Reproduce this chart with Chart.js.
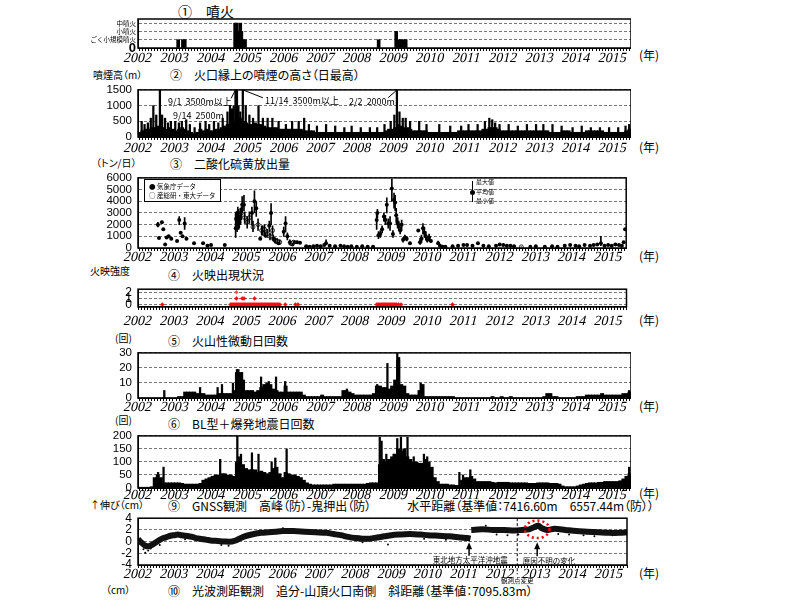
<!DOCTYPE html>
<html>
<head>
<meta charset="utf-8">
<script src="https://cdn.jsdelivr.net/npm/chart.js@4/dist/chart.umd.min.js"></script>
<style>
html, body { margin: 0; padding: 0; width: 800px; height: 600px; overflow: hidden; background: #fff; }
body { position: relative; font-family: "Noto Sans CJK JP", sans-serif; color: #000; }
.box { position: absolute; }
.t { position: absolute; white-space: nowrap; line-height: 1; font-size: 12px; font-feature-settings: "palt"; }
.u { font-size: 10px; }
.yr { font-size: 12px; font-feature-settings: normal; }
.lg { position: absolute; left: 144px; top: 179px; width: 75px; height: 21px; border: 1px solid #000; background: #fff; font-size: 6.5px; line-height: 1; }
.lg div { position: absolute; left: 4px; white-space: nowrap; }
</style>
</head>
<body>

<div class="t" style="left:178px;top:4px;font-size:14px">①　噴火</div>

<div class="t u" style="left:93px;top:70px">噴煙高（m）</div>
<div class="t" style="left:170px;top:69px">②　火口縁上の噴煙の高さ（日最高）</div>

<div class="t u" style="left:96px;top:158px">（トン/日）</div>
<div class="t" style="left:170px;top:158px">③　二酸化硫黄放出量</div>

<div class="t u" style="left:90px;top:266px">火映強度</div>
<div class="t" style="left:168px;top:269px">④　火映出現状況</div>

<div class="t u" style="left:115px;top:333px">(回)</div>
<div class="t" style="left:168px;top:335px">⑤　火山性微動日回数</div>

<div class="t u" style="left:115px;top:415px">(回)</div>
<div class="t" style="left:168px;top:418px">⑥　BL型＋爆発地震日回数</div>

<div class="t u" style="left:90px;top:500px">↑伸び（cm）</div>
<div class="t" style="left:168px;top:500px">⑨　GNSS観測　高峰（防）-鬼押出（防）　　　水平距離（基準値：7416.60m　6557.44m（防））</div>

<div class="t u" style="left:106px;top:585px">（cm）</div>
<div class="t" style="left:168px;top:585px">⑩　光波測距観測　追分-山頂火口南側　斜距離（基準値：7095.83m）</div>

<div class="t yr" style="left:639px;top:49px">(年)</div>
<div class="t yr" style="left:639px;top:141px">(年)</div>
<div class="t yr" style="left:639px;top:250px">(年)</div>
<div class="t yr" style="left:639px;top:314px">(年)</div>
<div class="t yr" style="left:639px;top:400px">(年)</div>
<div class="t yr" style="left:639px;top:487px">(年)</div>
<div class="t yr" style="left:639px;top:567px">(年)</div>

<script>
// ---- data ----
// ① 噴火 (1: ごく小規模噴火, 2: 小噴火, 3: 中噴火)
var eruptYear  = [2003.10, 2003.23, 2003.28, 2004.66, 2004.70, 2004.73, 2004.76, 2004.80, 2004.83, 2004.87, 2004.93, 2008.59, 2009.07, 2009.13, 2009.20, 2009.27, 2009.33];
var eruptLevel = [1, 1, 1, 3, 3, 2, 2, 3, 2, 1, 1, 1, 2, 1, 1, 1, 1];
var eruptLabels = ['0', 'ごく小規模噴火', '小噴火', '中噴火'];

// ② 噴煙高 (m) 月ごとの日最高の目安 2002/01 - 2015/06
var plumeMonthly = [
  150,200,250,250,300,300,350,350,300,250,300,250,
  200,250,300,250,200,150,100,150,250,200,250,200,
  200,250,250,300,350,400,450,500,600,600,500,450,
  400,400,450,400,400,350,300,300,300,300,250,250,
  250,250,250,250,250,250,200,200,200,200,150,150,
  150,150,150,150,150,150,150,150,150,150,150,150,
  150,150,150,150,150,150,150,150,150,200,250,250,
  300,400,350,300,300,250,200,200,200,200,200,150,
  150,150,150,150,150,150,150,150,150,200,200,200,
  200,200,200,200,200,250,250,300,300,300,250,200,
  200,200,200,200,200,200,200,200,200,200,200,200,
  200,200,200,150,150,150,150,200,200,200,150,150,
  150,150,150,200,200,200,200,200,200,150,150,150,
  150,150,150,150,200,250
];
var plumeSpikeYear = [
  2002.10, 2002.18, 2002.27, 2002.35, 2002.42, 2002.50, 2002.60, 2002.66, 2002.74, 2002.82,
  2002.90, 2003.02, 2003.12, 2003.20, 2003.32, 2003.42, 2003.55, 2003.70, 2003.85, 2003.95,
  2004.08, 2004.20, 2004.32, 2004.45, 2004.52, 2004.57, 2004.62, 2004.67, 2004.71, 2004.75,
  2004.80, 2004.87, 2004.95, 2005.05, 2005.15, 2005.30, 2005.42, 2005.55, 2005.68, 2005.85,
  2006.05, 2006.22, 2006.40, 2006.55, 2006.68, 2006.90, 2007.15, 2007.40, 2007.65, 2007.85,
  2008.10, 2008.35, 2008.55, 2008.75, 2008.92, 2009.02, 2009.09, 2009.16, 2009.25, 2009.33,
  2009.45, 2009.70, 2009.90, 2010.25, 2010.55, 2010.85, 2011.05, 2011.30, 2011.50, 2011.62,
  2011.70, 2011.78, 2011.90, 2012.15, 2012.40, 2012.65, 2012.90, 2013.10, 2013.35, 2013.60,
  2013.90, 2014.15, 2014.40, 2014.65, 2014.90, 2015.15, 2015.35, 2015.45
];
var plumeSpikeVal = [
  500, 400, 450, 600, 1000, 700, 1500, 700, 600, 450,
  500, 500, 450, 500, 550, 400, 300, 450, 500, 400,
  500, 450, 600, 800, 1000, 900, 1000, 3500, 2500, 1000,
  800, 3500, 1000, 700, 600, 1000, 600, 600, 600, 500,
  400, 500, 500, 600, 400, 350, 400, 350, 300, 350,
  300, 300, 300, 400, 500, 700, 2000, 800, 600, 600,
  500, 500, 400, 400, 350, 350, 400, 400, 500, 600,
  550, 450, 400, 400, 350, 400, 400, 400, 400, 350,
  300, 350, 300, 300, 300, 300, 350, 400
];

// ③ 二酸化硫黄放出量 (トン/日) 気象庁データ
var jmaYear = [
  2002.55, 2002.58, 2002.66, 2002.70, 2002.75, 2002.79, 2002.85, 2002.92, 2003.08, 2003.14,
  2003.18, 2003.23, 2003.29, 2003.34, 2003.55, 2003.80, 2003.92, 2004.02, 2004.40, 2004.70,
  2004.74, 2004.78, 2004.83, 2004.88, 2004.93, 2005.15, 2005.22, 2005.27, 2005.38, 2005.45,
  2005.52, 2005.63, 2005.68, 2005.74, 2005.80, 2005.88, 2006.03, 2006.08, 2006.13, 2006.20,
  2006.27, 2006.33, 2006.40, 2006.48, 2006.65, 2006.75, 2006.85, 2006.95, 2007.05, 2007.15,
  2007.20, 2007.30, 2007.45, 2007.60, 2007.70, 2007.80, 2007.90, 2008.05, 2008.20, 2008.35,
  2008.50, 2008.60, 2008.62, 2008.65, 2008.70, 2008.75, 2008.80, 2008.84, 2008.88, 2008.92,
  2008.97, 2009.02, 2009.05, 2009.08, 2009.11, 2009.14, 2009.18, 2009.21, 2009.25, 2009.29,
  2009.33, 2009.38, 2009.43, 2009.52, 2009.75, 2009.80, 2009.84, 2009.88, 2009.92, 2009.96,
  2010.00, 2010.05, 2010.10, 2010.30, 2010.35, 2010.42, 2010.50, 2010.70, 2010.85, 2011.00,
  2011.10, 2011.25, 2011.40, 2011.55, 2011.70, 2011.90, 2012.00, 2012.10, 2012.20, 2012.30,
  2012.40, 2012.85, 2013.00, 2013.25, 2013.45, 2013.60, 2013.80, 2013.95, 2014.10, 2014.20,
  2014.35, 2014.50, 2014.60, 2014.70, 2014.80, 2014.90, 2015.00, 2015.10, 2015.20, 2015.30,
  2015.38, 2015.43, 2015.47
];
var jmaMean = [
  2000, 850, 2200, 1600, 300, 900, 1000, 800, 600, 2400,
  1300, 1000, 2100, 800, 400, 400, 200, 250, 250, 1700,
  2000, 2500, 2700, 3700, 3700, 3000, 4000, 3400, 800, 1500,
  1100, 1900, 3000, 800, 600, 400, 1400, 2100, 1000, 500,
  300, 500, 500, 450, 150, 100, 150, 200, 150, 250,
  400, 200, 150, 200, 150, 100, 150, 100, 150, 100,
  100, 2400, 3000, 1100, 1200, 1600, 2700, 2400, 3700, 2100,
  2100, 5100, 1200, 4100, 3900, 2800, 2100, 1900, 1500, 2000,
  700, 900, 800, 400, 1500, 500, 800, 1700, 1300, 1000,
  700, 900, 600, 400, 200, 100, 100, 150, 200, 250,
  250, 200, 400, 200, 150, 200, 300, 250, 200, 200,
  150, 100, 150, 100, 150, 100, 200, 250, 200, 150,
  250, 200, 250, 300, 400, 200, 250, 200, 300, 250,
  200, 500, 1600
];
var jmaMin = [
  1800, 850, 2100, 1600, 300, 900, 1000, 800, 600, 2000,
  1300, 1000, 1600, 800, 400, 400, 200, 250, 250, 900,
  1400, 1600, 2000, 3000, 3200, 2000, 3000, 2700, 800, 1100,
  900, 1400, 2000, 600, 400, 300, 1000, 1400, 700, 300,
  200, 400, 400, 450, 150, 100, 150, 200, 150, 250,
  300, 200, 150, 200, 150, 100, 150, 100, 150, 100,
  100, 1600, 2600, 800, 900, 1300, 2300, 2000, 3000, 1700,
  1500, 4000, 900, 3400, 3200, 2200, 1700, 1500, 1200, 1500,
  500, 700, 600, 300, 1400, 300, 500, 1200, 900, 700,
  500, 600, 500, 300, 200, 100, 100, 150, 200, 250,
  250, 200, 400, 200, 150, 200, 300, 250, 200, 200,
  150, 100, 150, 100, 150, 100, 200, 250, 200, 150,
  250, 200, 250, 300, 200, 200, 250, 200, 300, 250,
  200, 500, 1600
];
var jmaMax = [
  2200, 850, 2300, 1600, 300, 900, 1000, 800, 600, 2700,
  1300, 1000, 2600, 800, 400, 400, 200, 250, 250, 3000,
  2600, 3300, 3400, 4400, 4500, 3500, 4900, 4000, 800, 1900,
  1300, 2300, 3800, 1100, 800, 500, 1800, 2700, 1300, 700,
  400, 600, 600, 450, 150, 100, 150, 200, 150, 250,
  700, 200, 150, 200, 150, 100, 150, 100, 150, 100,
  100, 3000, 3300, 1400, 1500, 1900, 3000, 2800, 4300, 2500,
  2700, 5900, 1500, 4700, 4500, 3400, 2600, 2300, 1800, 2400,
  900, 1100, 1000, 500, 1600, 800, 1100, 2100, 1800, 1400,
  900, 1200, 700, 600, 200, 100, 100, 150, 200, 250,
  250, 200, 400, 200, 150, 200, 300, 250, 200, 200,
  150, 100, 150, 100, 150, 100, 200, 250, 200, 150,
  250, 200, 250, 300, 1000, 200, 250, 200, 300, 250,
  200, 500, 1600
];
// 産総研・東大データ
var aistYear = [2004.72, 2004.76, 2004.80, 2004.86, 2004.95, 2005.02, 2005.08, 2005.18, 2005.32, 2005.42, 2005.50, 2005.57, 2005.65, 2005.72, 2005.78, 2005.85, 2005.92, 2006.22, 2006.30, 2012.60];
var aistMean = [2500, 3000, 2200, 3000, 2600, 2200, 2600, 1800, 2000, 1500, 1600, 1200, 1000, 1500, 700, 600, 500, 400, 500, 100];
var aistMin  = [1900, 2400, 1700, 2400, 2100, 1700, 2100, 1400, 1500, 1100, 1200, 900, 700, 1100, 500, 400, 300, 300, 400, 100];
var aistMax  = [3100, 3500, 2800, 3500, 3100, 2700, 3100, 2300, 2500, 1900, 2000, 1600, 1300, 1900, 900, 800, 700, 500, 600, 100];

// ④ 火映 (強度 0, 1, 2)
var glow0Year = [
  2002.67, 2004.56, 2004.59, 2004.62, 2004.65, 2004.68, 2004.71, 2004.74, 2004.77, 2004.80,
  2004.83, 2004.86, 2004.89, 2004.92, 2004.95, 2004.98, 2005.01, 2005.04, 2005.07, 2005.10,
  2005.13, 2005.16, 2005.19, 2005.22, 2005.25, 2005.28, 2005.31, 2005.34, 2005.37, 2005.40,
  2005.43, 2005.46, 2005.49, 2005.52, 2005.55, 2005.58, 2005.61, 2005.64, 2005.67, 2005.70,
  2005.73, 2005.76, 2005.79, 2005.82, 2005.85, 2005.88, 2005.92, 2006.07, 2006.35, 2006.42,
  2008.60, 2008.63, 2008.66, 2008.69, 2008.72, 2008.75, 2008.78, 2008.81, 2008.84, 2008.87,
  2008.90, 2008.93, 2008.96, 2008.99, 2009.02, 2009.05, 2009.08, 2009.11, 2009.14, 2009.20,
  2009.27, 2010.69
];
var glow1Year = [2004.72, 2004.88, 2004.93, 2005.22];
var glow2Year = [2004.72];

// ⑤ 火山性微動日回数 月ごとの目安 2002/01 - 2015/06
var tremorMonthly = [
  0,0,0,0,0,0,0,0,0,0,0,0,
  0,1,1,4,4,4,4,3,3,3,2,2,
  2,2,3,3,3,3,3,5,17,17,10,5,
  5,5,4,5,7,9,10,9,6,5,4,4,
  8,4,4,4,4,4,2,1,1,1,1,1,
  2,1,1,1,1,1,1,5,5,4,3,2,
  2,2,2,2,2,3,8,8,7,7,6,8,
  12,25,9,8,3,2,2,2,5,9,1,1,
  1,1,1,1,1,1,1,1,0,0,0,0,
  0,0,0,0,0,0,0,0,1,0,0,1,
  0,0,1,0,0,0,0,0,0,0,0,0,
  0,1,3,3,1,1,0,0,0,0,0,0,
  1,1,1,2,2,2,2,2,3,2,2,2,
  2,2,2,3,3,4
];
var tremorSpikeYear = [2002.72, 2003.70, 2004.18, 2004.30, 2004.60, 2004.71, 2004.75, 2004.85, 2004.90, 2005.37, 2005.58, 2005.78, 2006.03, 2007.72, 2008.55, 2008.83, 2009.10, 2009.15, 2009.74, 2015.45];
var tremorSpikeVal  = [5, 7, 7, 9, 10, 19, 19, 17, 12, 14, 11, 14, 11, 6, 9, 23, 30, 27, 10, 5];

// ⑥ BL型＋爆発地震日回数 月ごとの目安 2002/01 - 2015/06
var blMonthly = [
  3,3,3,3,5,40,50,40,20,20,20,20,
  20,20,18,15,15,15,15,15,18,30,35,40,
  45,50,50,55,55,50,50,45,100,110,90,75,
  70,70,70,60,65,60,55,60,75,80,55,40,
  60,55,50,50,45,40,30,20,15,12,12,12,
  12,12,12,12,15,15,15,15,15,15,15,15,
  15,15,15,18,20,20,20,90,110,100,110,120,
  130,150,140,150,120,110,100,100,95,95,110,100,
  80,40,25,15,15,15,12,12,10,10,30,40,
  40,45,35,25,25,25,25,25,22,20,22,22,
  22,22,20,20,20,20,20,20,18,18,18,20,
  20,20,20,18,18,18,15,8,5,5,5,5,
  8,12,15,18,20,20,20,22,22,25,25,25,
  25,25,28,35,45,55
];
var blSpikeYear = [2002.55, 2002.70, 2004.25, 2004.72, 2004.76, 2004.82, 2005.12, 2005.30, 2005.66, 2005.76, 2006.07, 2008.62, 2008.67, 2008.80, 2009.00, 2009.10, 2009.20, 2009.30, 2009.38, 2009.55, 2009.83, 2009.92, 2010.80, 2010.90, 2011.10, 2015.45];
var blSpikeVal  = [60, 80, 110, 200, 120, 130, 135, 130, 100, 115, 150, 195, 180, 130, 130, 190, 195, 150, 195, 120, 130, 120, 60, 50, 70, 80];

// ⑨ GNSS 水平距離の伸び (cm)
var gnssYear = [
  2002.0, 2002.1, 2002.2, 2002.3, 2002.4, 2002.5, 2002.6, 2002.7, 2002.8, 2002.9,
  2003.0, 2003.1, 2003.2, 2003.3, 2003.4, 2003.5, 2003.6, 2003.7, 2003.8, 2003.9,
  2004.0, 2004.2, 2004.4, 2004.6, 2004.7, 2004.8, 2004.9, 2005.0, 2005.2, 2005.4,
  2005.6, 2005.8, 2006.0, 2006.3, 2006.6, 2006.9, 2007.2, 2007.4, 2007.6, 2007.8,
  2008.0, 2008.2, 2008.4, 2008.6, 2008.8, 2009.0, 2009.2, 2009.5, 2009.8, 2010.0,
  2010.3, 2010.6, 2010.9, 2011.1, 2011.18, 2011.19, 2011.2, 2011.5, 2011.8, 2012.1,
  2012.4, 2012.6, 2012.8, 2012.95, 2013.05, 2013.15, 2013.3, 2013.5, 2013.8, 2014.1,
  2014.4, 2014.7, 2015.0, 2015.3, 2015.5
];
var gnssVal = [
  0.4, -0.2, -0.7, -0.8, -0.5, -0.1, 0.3, 0.6, 0.8, 1.0,
  1.1, 1.2, 1.1, 1.0, 0.9, 0.8, 0.6, 0.5, 0.4, 0.3,
  0.2, 0.1, 0.0, 0.0, 0.2, 0.5, 0.8, 1.0, 1.3, 1.5,
  1.6, 1.7, 1.8, 1.8, 1.7, 1.6, 1.5, 1.3, 1.1, 0.8,
  0.6, 0.5, 0.5, 0.7, 0.9, 1.1, 1.2, 1.3, 1.2, 1.1,
  1.0, 0.9, 0.7, 0.6, 0.5, null, 2.0, 2.1, 2.0, 2.0,
  1.9, 2.0, 2.1, 2.5, 2.7, 2.3, 2.0, 2.2, 2.0, 1.8,
  1.7, 1.6, 1.5, 1.5, 1.6
];
var gnssOutYear = [2002.15, 2002.20, 2002.28, 2002.35, 2002.60, 2003.30, 2004.30, 2004.50, 2006.00, 2008.20, 2008.90, 2009.90, 2010.50, 2011.60, 2011.90, 2012.20, 2012.50, 2013.05, 2013.60, 2013.90, 2014.30, 2014.60, 2015.10];
var gnssOutVal  = [-1.3, -1.9, -1.5, -1.2, -0.6, 0.4, -0.6, -0.7, 2.3, -0.1, -0.5, 0.5, 0.3, 2.7, 1.2, 1.1, 1.2, 3.1, 1.3, 1.2, 1.1, 0.9, 1.1];

// ---- layout ----
var X0 = 138, X1 = 631, PAD = 7, XH = 22;
var SANS = '"Liberation Sans", Arial, sans-serif';
var YEAR_FONT = '14px "Liberation Serif", "Times New Roman", "DejaVu Serif", serif';
var monthTicks = [];
for (var i = 0; i <= 162; i++) monthTicks.push(2002 + i / 12);

function isYear(v) { return Math.abs(v - Math.round(v)) < 1e-6; }
function pts(xs, ys) { return xs.map(function (x, i) { return {x: x, y: ys[i]}; }); }
function monthly(vals) { return vals.map(function (v, i) { return {x: 2002 + (i + 0.5) / 12, y: v}; }); }
function ranges(xs, lo, hi) { return xs.map(function (x, i) { return {x: x, y: [lo[i], hi[i]]}; }); }
function level(xs, v) { return xs.map(function (x) { return {x: x, y: v}; }); }

function bars(data, w) {
  return {type: 'bar', data: data, backgroundColor: '#000', borderWidth: 0, barThickness: w, grouped: false};
}

var frame = {
  id: 'frame',
  afterDatasetsDraw: function (chart) {
    var a = chart.chartArea, c = chart.ctx;
    c.save();
    c.strokeStyle = '#000';
    c.lineWidth = 1.5;
    c.strokeRect(a.left, a.top, a.right - a.left, a.bottom - a.top);
    c.restore();
  }
};

// slanted serif year labels under each panel, placed on the x scale's own ticks
function yearLabels(off) {
  return {
    id: 'yearLabels',
    afterDraw: function (chart) {
      var xs = chart.scales.x, a = chart.chartArea, c = chart.ctx;
      xs.ticks.forEach(function (t) {
        if (!isYear(t.value)) return;
        c.save();
        c.font = YEAR_FONT;
        c.fillStyle = '#000';
        c.textAlign = 'center';
        c.textBaseline = 'middle';
        c.translate(xs.getPixelForValue(t.value), a.bottom + off);
        c.transform(1, 0, -0.24, 1, 0, 0);
        c.fillText(String(Math.round(t.value)), 0, 0);
        c.restore();
      });
    }
  };
}

function notes(list) {
  return {
    id: 'notes',
    afterDraw: function (chart) {
      var xs = chart.scales.x, ys = chart.scales.y, c = chart.ctx;
      var px = function (v) { return xs.getPixelForValue(v); };
      var py = function (v) { return ys.getPixelForValue(v); };
      c.save();
      list.forEach(function (n) {
        c.strokeStyle = n.color || '#000';
        c.fillStyle = n.color || '#000';
        c.lineWidth = n.width || 1;
        c.setLineDash(n.dash || []);
        if (n.kind === 'text') {
          c.font = (n.size || 9) + 'px "Noto Sans CJK JP", sans-serif';
          c.textAlign = n.align || 'left';
          c.textBaseline = 'middle';
          c.fillText(n.text, px(n.x), py(n.y));
        } else if (n.kind === 'line') {
          c.beginPath();
          c.moveTo(px(n.x1), py(n.y1));
          c.lineTo(px(n.x2), py(n.y2));
          c.stroke();
        } else if (n.kind === 'arrow') {
          var x = px(n.x), yb = py(n.y1), yt = py(n.y2);
          c.beginPath(); c.moveTo(x, yb); c.lineTo(x, yt + 4); c.stroke();
          c.beginPath(); c.moveTo(x, yt); c.lineTo(x - 3, yt + 7); c.lineTo(x + 3, yt + 7); c.closePath(); c.fill();
        } else if (n.kind === 'ellipse') {
          var cx = px(n.x), cy = py(n.y);
          c.beginPath();
          c.ellipse(cx, cy, Math.abs(px(n.x + n.rx) - cx), Math.abs(py(n.y + n.ry) - cy), 0, 0, Math.PI * 2);
          c.stroke();
        }
      });
      c.restore();
    }
  };
}

function makePanel(p) {
  var left = X0 - p.yW;
  var div = document.createElement('div');
  div.className = 'box';
  div.style.left = left + 'px';
  div.style.top = (p.top - PAD) + 'px';
  div.style.width = (X1 - left) + 'px';
  div.style.height = (p.bottom - p.top + PAD + XH) + 'px';
  var cv = document.createElement('canvas');
  div.appendChild(cv);
  document.body.appendChild(div);
  var plugins = [frame, yearLabels(p.xOff || 10)];
  if (p.notes) plugins.push(notes(p.notes));
  return new Chart(cv.getContext('2d'), {
    type: 'scatter',
    data: {datasets: p.datasets},
    options: {
      responsive: true,
      maintainAspectRatio: false,
      animation: false,
      layout: {padding: {top: PAD, right: 0, bottom: 0, left: 0}},
      plugins: {legend: {display: false}, tooltip: {enabled: false}},
      scales: {
        x: {
          type: 'linear', min: 2002, max: 2015.5, offset: false,
          afterBuildTicks: function (s) { s.ticks = monthTicks.map(function (v) { return {value: v}; }); },
          afterFit: function (s) { s.height = XH; },
          ticks: {autoSkip: false, maxRotation: 0, padding: 0, callback: function () { return ''; }},
          grid: {drawOnChartArea: false, tickLength: 3, tickColor: '#000', color: '#000'},
          border: {color: '#000', width: 1}
        },
        y: {
          type: 'linear', min: p.yMin, max: p.yMax,
          afterBuildTicks: function (s) { s.ticks = p.yTicks.map(function (v) { return {value: v}; }); },
          afterFit: function (s) { s.width = p.yW; },
          ticks: {
            autoSkip: false, padding: p.yPad || 6, color: '#000',
            font: p.yFont || {family: SANS, size: 11.5},
            callback: p.yLabel || function (v) { return String(v); }
          },
          grid: {color: '#777', drawTicks: false, lineWidth: 1},
          border: {dash: [3, 2], color: '#000'}
        }
      }
    },
    plugins: plugins
  });
}

// ① 噴火
makePanel({
  top: 19, bottom: 48, yW: 50, yMin: 0, yMax: 3.5, yTicks: [0, 1, 2, 3], yPad: 2, xOff: 10,
  yLabel: function (v) { return eruptLabels[v]; },
  yFont: function (ctx) {
    return ctx.tick && ctx.tick.value === 0
      ? {family: SANS, size: 13, weight: 'bold'}
      : {family: '"Noto Sans CJK JP"', size: 6.5};
  },
  datasets: [bars(pts(eruptYear, eruptLevel), 3)]
});

// ② 噴煙高
makePanel({
  top: 84, bottom: 137, yW: 40, yMin: 0, yMax: 1500, yTicks: [0, 500, 1000, 1500], xOff: 11,
  datasets: [bars(monthly(plumeMonthly), 3.3), bars(pts(plumeSpikeYear, plumeSpikeVal), 1.6)],
  notes: [
    {kind: 'text', x: 2002.82, y: 1130, text: '9/1  3500m以上'},
    {kind: 'text', x: 2002.96, y: 680, text: '9/14  2500m'},
    {kind: 'text', x: 2005.48, y: 1150, text: '11/14  3500m以上'},
    {kind: 'text', x: 2007.78, y: 1130, text: '2/2  2000m'},
    {kind: 'line', x1: 2004.55, y1: 1230, x2: 2004.67, y2: 1500},
    {kind: 'line', x1: 2004.87, y1: 1500, x2: 2005.42, y2: 1250},
    {kind: 'line', x1: 2008.85, y1: 1250, x2: 2009.09, y2: 1500}
  ]
});

// ③ 二酸化硫黄放出量
makePanel({
  top: 172, bottom: 248, yW: 40, yMin: 0, yMax: 6000, yTicks: [0, 1000, 2000, 3000, 4000, 5000, 6000], xOff: 9,
  datasets: [
    bars(ranges(jmaYear, jmaMin, jmaMax), 1),
    bars(ranges(aistYear, aistMin, aistMax), 1),
    {data: pts(aistYear, aistMean), pointRadius: 2, pointBackgroundColor: '#fff', pointBorderColor: '#000', pointBorderWidth: 0.8},
    {data: pts(jmaYear, jmaMean), pointRadius: 2, pointBackgroundColor: '#000', pointBorderColor: '#000', pointBorderWidth: 0}
  ]
});

// ④ 火映
makePanel({
  top: 283, bottom: 307, yW: 40, yMin: -0.4, yMax: 2.5, yTicks: [0, 1, 2], xOff: 14,
  yFont: {family: SANS, size: 12},
  datasets: [
    {data: level(glow0Year, 0), pointStyle: 'rectRot', pointRadius: 2, pointBackgroundColor: '#f00', pointBorderColor: '#f22', pointBorderWidth: 0.5},
    {data: level(glow1Year, 1), pointStyle: 'rectRot', pointRadius: 2, pointBackgroundColor: '#f00', pointBorderColor: '#f22', pointBorderWidth: 0.5},
    {data: level(glow2Year, 2), pointStyle: 'rectRot', pointRadius: 1.8, pointBackgroundColor: '#f44', pointBorderColor: '#f44', pointBorderWidth: 0.5}
  ]
});

// ⑤ 火山性微動日回数
makePanel({
  top: 347, bottom: 398, yW: 40, yMin: 0, yMax: 30, yTicks: [0, 10, 20, 30], xOff: 9,
  datasets: [bars(monthly(tremorMonthly), 3.3), bars(pts(tremorSpikeYear, tremorSpikeVal), 1.6)]
});

// ⑥ BL型＋爆発地震日回数
makePanel({
  top: 430, bottom: 488, yW: 40, yMin: 0, yMax: 200, yTicks: [0, 50, 100, 150, 200], xOff: 7,
  datasets: [bars(monthly(blMonthly), 3.3), bars(pts(blSpikeYear, blSpikeVal), 1.6)]
});

// ⑨ GNSS
makePanel({
  top: 512, bottom: 565, yW: 40, yMin: -4, yMax: 4, yTicks: [-4, -2, 0, 2, 4], xOff: 9,
  yFont: {family: SANS, size: 12},
  datasets: [
    {type: 'line', data: pts(gnssYear, gnssVal), borderColor: '#111', borderWidth: 6, pointRadius: 0, tension: 0.3, spanGaps: false},
    {data: pts(gnssOutYear, gnssOutVal), pointRadius: 1, pointBackgroundColor: '#000', pointBorderWidth: 0}
  ],
  notes: [
    {kind: 'line', x1: 2012.47, y1: 4, x2: 2012.47, y2: -5.6, dash: [3, 2]},
    {kind: 'text', x: 2012.47, y: -6.6, text: '観測点変更', size: 6.5, align: 'center'},
    {kind: 'arrow', x: 2011.14, y1: -2.4, y2: -0.1, width: 1.5},
    {kind: 'text', x: 2011.17, y: -3.2, text: '東北地方太平洋沖地震', size: 7.5, align: 'center'},
    {kind: 'arrow', x: 2013.02, y1: -2.5, y2: -0.1, width: 1.5},
    {kind: 'text', x: 2012.62, y: -3.3, text: '原因不明の変化', size: 7.5},
    {kind: 'ellipse', x: 2013.02, y: 2.1, rx: 0.34, ry: 1.5, color: '#e00', width: 2.5, dash: [2, 3]}
  ]
});

// ⑩ 光波測距 (上端のみ)
makePanel({
  top: 599, bottom: 660, yW: 40, yMin: -5, yMax: 5, yTicks: [-5, 0, 5],
  datasets: []
});
</script>

<div class="lg">
  <div style="top:3px">●&nbsp;気象庁データ</div>
  <div style="top:12px">○&nbsp;産総研・東大データ</div>
</div>
<div style="position:absolute;left:472px;top:181px;width:1px;height:21px;background:#000"></div>
<div style="position:absolute;left:470px;top:190px;width:5px;height:5px;border-radius:50%;background:#000"></div>
<div class="t" style="left:476px;top:179px;font-size:6px">最大値</div>
<div class="t" style="left:476px;top:189px;font-size:6px">平均値</div>
<div class="t" style="left:476px;top:198px;font-size:6px">最小値</div>

</body>
</html>
